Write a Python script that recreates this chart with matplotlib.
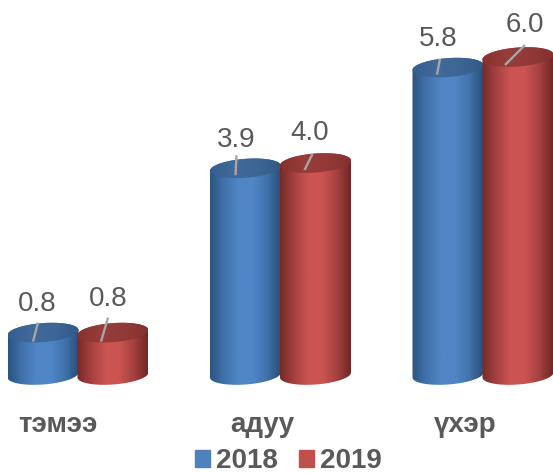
import numpy as np
import matplotlib
matplotlib.use("Agg")
import matplotlib.pyplot as plt
from matplotlib.colors import LinearSegmentedColormap
from matplotlib.patches import PathPatch, Patch
from matplotlib.path import Path

plt.rcParams['font.family'] = ['Liberation Sans', 'DejaVu Sans']

categories = ['тэмээ', 'адуу', 'үхэр']
years = ['2018', '2019']
values_2018 = [0.8, 3.9, 5.8]
values_2019 = [0.8, 4.0, 6.0]

# scale of the chart, pixels per unit
PX_X = 202.5
PX_Y = 53.0
X0 = 78.0
Y0 = 375.0
W, H = 553, 473

# (start dx, start dy, end dx, end dy, label dx, label dy) in pixels from top centre
offs_2018 = [(-10, -9, -5, 10, -6, 29), (-10, -7, -9, 13, -9, 28), (-11, -7, -8, 9, -10, 29)]
offs_2019 = [(-12, -9, -5, 15, -5, 34), (-11, -7, -3, 9, -6, 30), (-13, -8, 7, 12, 7, 32)]
cat_shift = [-20, -18, -18]

fig = plt.figure(figsize=(W / 100, H / 100), dpi=100)
ax = fig.add_axes([0, 0, 1, 1])
xlim = (-X0 / PX_X, (W - X0) / PX_X)
ylim = (-(H - Y0) / PX_Y, Y0 / PX_Y)

half_w = 35.5 / PX_X
half_h = 9.5 / PX_Y
tilt = 2.5 / PX_Y
bar_off = 35 / PX_X


def arc(cx, cy, t0, t1):
    t = np.linspace(t0, t1, 60)
    return np.column_stack([cx + half_w * np.cos(t),
                            cy + half_h * np.sin(t) + tilt * np.cos(t)])


def shaded(cx, y0, y1, verts, cmap, z):
    patch = PathPatch(Path(np.vstack([verts, verts[0]])), fc='none', ec='none', transform=ax.transData)
    ax.add_patch(patch)
    grad = np.linspace(0, 1, 200).reshape(1, -1)
    im = ax.imshow(grad, extent=(cx - half_w, cx + half_w, y0, y1), cmap=cmap,
                   aspect='auto', zorder=z, vmin=0, vmax=1)
    im.set_clip_path(patch)


def cylinder(cx, v, side, top, z):
    body = np.vstack([arc(cx, 0, np.pi, 2 * np.pi), arc(cx, v, 0, np.pi)])
    shaded(cx, -0.5, v + 0.5, body, side, z)
    shaded(cx, v - 0.5, v + 0.5, arc(cx, v, 0, 2 * np.pi), top, z + 0.1)


blue_side = LinearSegmentedColormap.from_list('bs', ['#2c5480', '#4073ac', '#5086c6', '#5086c6', '#4073ac', '#2a4f78'])
blue_top = LinearSegmentedColormap.from_list('bt', ['#345f90', '#41699a', '#3d6695', '#325a88'])
red_side = LinearSegmentedColormap.from_list('rs', ['#762a28', '#a64140', '#cb5451', '#cb5451', '#a64140', '#702725'])
red_top = LinearSegmentedColormap.from_list('rt', ['#873230', '#963c3a', '#933a38', '#843130'])

for i in range(len(categories)):
    groups = [(values_2018[i], -bar_off, blue_side, blue_top, offs_2018[i], 2),
              (values_2019[i], bar_off, red_side, red_top, offs_2019[i], 3)]
    for v, shift, side, top, o, z in groups:
        cx = i + shift
        cylinder(cx, v, side, top, z)
        ax.plot([cx + o[0] / PX_X, cx + o[2] / PX_X], [v + o[1] / PX_Y, v + o[3] / PX_Y],
                color='#a6a6a6', lw=1.7, zorder=5, solid_capstyle='butt')
        ax.text(cx + o[4] / PX_X, v + o[5] / PX_Y, '%.1f' % v, fontsize=20, color='#595959',
                ha='center', va='center', zorder=6)
    ax.text(i + cat_shift[i] / PX_X, (Y0 - 425) / PX_Y, categories[i], fontsize=20,
            fontweight='bold', color='#595959', ha='center', va='center')

handles = [Patch(color='#4f81bd', label=years[0]), Patch(color='#c0504d', label=years[1])]
ax.legend(handles=handles, loc='lower center', bbox_to_anchor=(0.521, -0.032), ncol=2, frameon=False,
          handlelength=0.54, handleheight=0.54, handletextpad=0.22, columnspacing=0.75, borderpad=0,
          prop={'size': 20, 'weight': 'bold', 'family': 'Liberation Sans'}, labelcolor='#595959')

ax.set_xlim(xlim)
ax.set_ylim(ylim)
ax.axis('off')
fig.savefig('out.png', dpi=100, facecolor='white')
